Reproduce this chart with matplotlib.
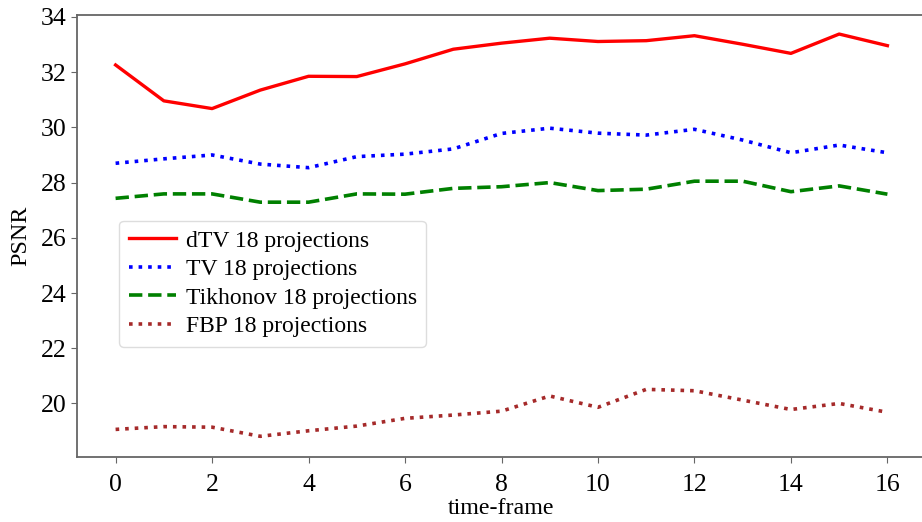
import matplotlib.pyplot as plt
import numpy as np

plt.rcParams['font.family'] = ['Liberation Serif', 'DejaVu Serif']

## data
frames = np.arange(17)
dtv = [32.26, 30.96, 30.68, 31.35, 31.85, 31.84, 32.30, 32.83, 33.05, 33.23,
       33.11, 33.14, 33.32, 33.01, 32.68, 33.38, 32.96]
tv = [28.70, 28.86, 29.00, 28.67, 28.54, 28.94, 29.03, 29.22, 29.78, 29.97,
      29.79, 29.72, 29.93, 29.54, 29.08, 29.36, 29.08]
tikhonov = [27.43, 27.59, 27.59, 27.29, 27.29, 27.59, 27.58, 27.79, 27.85, 28.00,
            27.71, 27.76, 28.05, 28.05, 27.67, 27.88, 27.58]
fbp = [19.06, 19.16, 19.14, 18.81, 19.01, 19.18, 19.46, 19.58, 19.72, 20.27,
       19.86, 20.51, 20.46, 20.12, 19.78, 20.00, 19.68]

fig = plt.figure(figsize=(9.22, 5.22), dpi=100)
## right spine is cut off in the reference, so the axes runs past the edge
ax = fig.add_axes([77/922, 1 - 457/522, 849/922, 442/522])

ax.plot(frames, dtv, color='red', linestyle='-', linewidth=2.4, label='dTV 18 projections')
ax.plot(frames, tv, color='blue', linestyle=':', linewidth=2.6, label='TV 18 projections')
ax.plot(frames, tikhonov, color='green', linestyle='--', linewidth=2.6, label='Tikhonov 18 projections')
ax.plot(frames, fbp, color='brown', linestyle=':', linewidth=2.6, label='FBP 18 projections')

ax.set_xlim(-0.8, 16.8)
ax.set_ylim(18.06, 34.07)
ax.set_xticks(range(0, 17, 2))
ax.set_yticks(range(20, 35, 2))
ax.tick_params(labelsize=18.5, color='#666666', length=4)
ax.tick_params(axis='x', pad=8)

for sp in ax.spines.values():
    sp.set_color('#666666')
    sp.set_linewidth(1.3)

ax.set_xlabel('time-frame', fontsize=17.3, labelpad=2)
ax.set_ylabel('PSNR', fontsize=17.3, labelpad=7)

ax.legend(loc='upper left', bbox_to_anchor=(0.05, 0.535), borderaxespad=0,
          fontsize=17, handlelength=2.0, handletextpad=0.4, labelspacing=0.3,
          framealpha=1, edgecolor='#dddddd')

plt.savefig('out.png', dpi=100)
